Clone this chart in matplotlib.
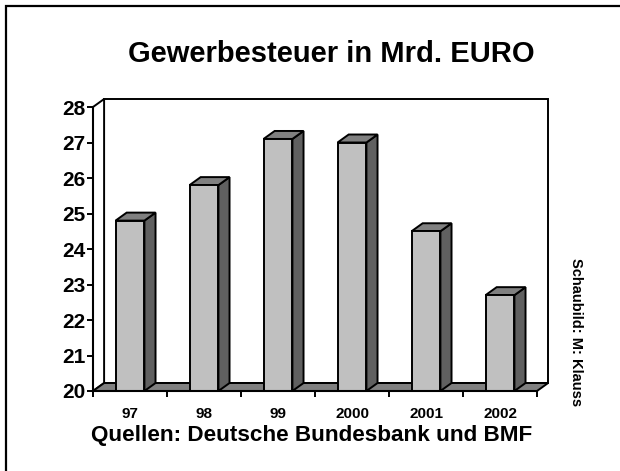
import matplotlib.pyplot as plt
from matplotlib.patches import Polygon, Rectangle

# Gewerbesteuer in Mrd. EURO
years = ['97', '98', '99', '2000', '2001', '2002']
values = [24.8, 25.8, 27.1, 27.0, 24.5, 22.7]
y_ticks = [20, 21, 22, 23, 24, 25, 26, 27, 28]

plt.rcParams['font.family'] = ['Liberation Sans', 'DejaVu Sans']
plt.rcParams['font.weight'] = 'bold'

W, H = 620, 471
fig = plt.figure(figsize=(W / 100, H / 100), dpi=100)
ax = fig.add_axes([93 / W, (H - 391) / H, (537 - 93) / W, (391 - 107) / H])

ymin, ymax = 20, 28
ax.set_xlim(-0.5, len(years) - 0.5)
ax.set_ylim(ymin, ymax)

# depth of the fake 3d look, in data units
dx, dy = 0.15, 0.225
bw = 0.39
lw = 1.4

x0, x1 = -0.5, len(years) - 0.5
# back wall, left wall, floor
ax.add_patch(Polygon([(x0 + dx, ymin + dy), (x1 + dx, ymin + dy), (x1 + dx, ymax + dy), (x0 + dx, ymax + dy)],
                     closed=True, fc='white', ec='black', lw=lw, clip_on=False, zorder=1))
ax.add_patch(Polygon([(x0, ymin), (x0 + dx, ymin + dy), (x0 + dx, ymax + dy), (x0, ymax)],
                     closed=True, fc='white', ec='black', lw=lw, clip_on=False, zorder=1))
ax.add_patch(Polygon([(x0, ymin), (x1, ymin), (x1 + dx, ymin + dy), (x0 + dx, ymin + dy)],
                     closed=True, fc='#808080', ec='black', lw=lw, clip_on=False, zorder=2))

xs = list(range(len(years)))
ax.bar(xs, [v - ymin for v in values], bottom=ymin, width=bw, color='#c0c0c0',
       edgecolor='black', linewidth=lw, zorder=4)
for x, v in zip(xs, values):
    l, r = x - bw / 2, x + bw / 2
    ax.add_patch(Polygon([(r, ymin), (r + dx, ymin + dy), (r + dx, v + dy), (r, v)],
                         closed=True, fc='#606060', ec='black', lw=lw, clip_on=False, zorder=3))
    ax.add_patch(Polygon([(l, v), (r, v), (r + dx, v + dy), (l + dx, v + dy)],
                         closed=True, fc='#808080', ec='black', lw=lw, clip_on=False, zorder=3))

for s in ['top', 'right']:
    ax.spines[s].set_visible(False)
for s in ['left', 'bottom']:
    ax.spines[s].set_linewidth(1.5)
    ax.spines[s].set_zorder(5)

ax.set_yticks(y_ticks)
ax.set_yticklabels([str(t) for t in y_ticks], fontsize=15, fontweight='bold')
ax.tick_params(axis='y', length=4, width=1.4, pad=1.5)

ax.set_xticks(xs)
ax.set_xticklabels(years, fontsize=11, fontweight='bold')
ax.set_xticks([x - 0.5 for x in range(len(years) + 1)], minor=True)
ax.tick_params(axis='x', which='major', length=0, pad=11.5)
ax.tick_params(axis='x', which='minor', length=4, width=1.4)

fig.text(331 / W, 1 - 54 / H, 'Gewerbesteuer in Mrd. EURO', ha='center', va='center',
         fontsize=21, fontweight='bold')
fig.text(312 / W, 1 - 435 / H, 'Quellen: Deutsche Bundesbank und BMF', ha='center', va='center',
         fontsize=16.2, fontweight='bold')
fig.text(576 / W, 1 - 332 / H, 'Schaubild: M: Klauss', ha='center', va='center',
         rotation=270, fontsize=10.5, fontweight='bold')

# outer frame, right and bottom run off the picture
fig.add_artist(Rectangle((6 / W, -0.1), 1.2, 1.1 - 6 / H, transform=fig.transFigure,
                         fill=False, ec='black', lw=1.6))

fig.savefig('out.png', dpi=100)
